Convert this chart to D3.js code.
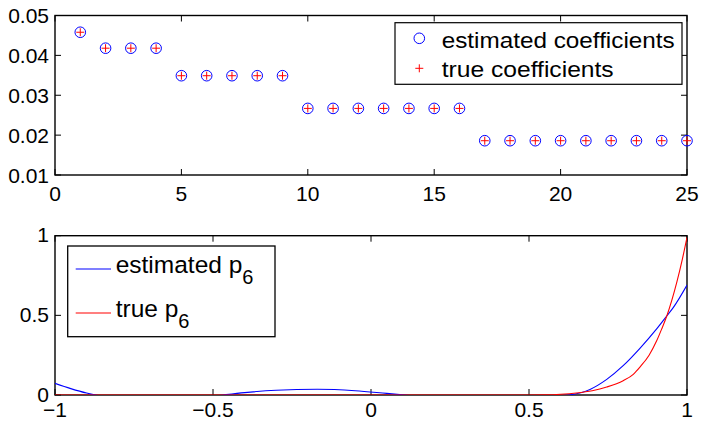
<!DOCTYPE html>
<html>
<head>
<meta charset="utf-8">
<script src="https://cdn.jsdelivr.net/npm/d3@7"></script>
<style>
  html, body { margin: 0; padding: 0; background: #fff; }
  svg { display: block; }
  text { font-family: "Liberation Sans", Arial, Helvetica, sans-serif; fill: #000; }
</style>
</head>
<body>
<svg id="chart" width="702" height="421"></svg>
<script>
// ---------- data ----------
const coefIndex = [1,2,3,4,5,6,7,8,9,10,11,12,13,14,15,16,17,18,19,20,21,22,23,24,25];
const estimatedCoef = [0.0458,0.0418,0.0418,0.0418,0.0349,0.0349,0.0349,0.0349,0.0349,
  0.0267,0.0267,0.0267,0.0267,0.0267,0.0267,0.0267,
  0.0186,0.0186,0.0186,0.0186,0.0186,0.0186,0.0186,0.0186,0.0186];
const trueCoef = [0.0458,0.0418,0.0418,0.0418,0.0349,0.0349,0.0349,0.0349,0.0349,
  0.0267,0.0267,0.0267,0.0267,0.0267,0.0267,0.0267,
  0.0186,0.0186,0.0186,0.0186,0.0186,0.0186,0.0186,0.0186,0.0186];
const topXTicks = [0,5,10,15,20,25];
const topYTicks = [0.01,0.02,0.03,0.04,0.05];
const topYLabels = ["0.01","0.02","0.03","0.04","0.05"];

const estX = [-1,-0.95,-0.9,-0.85,-0.75,-0.65,-0.55,-0.468,-0.4,-0.3,-0.17,-0.05,0.05,0.108,0.2,0.35,0.5,0.58,0.625,0.693,0.746,0.798,0.851,0.904,0.936,0.957,1.0];
const estY = [0.073,0.04,0.012,-0.008,-0.03,-0.035,-0.02,0,0.015,0.03,0.036,0.027,0.01,0,-0.02,-0.03,-0.02,-0.005,0,0.035,0.098,0.184,0.293,0.415,0.496,0.55,0.69];
const trueX = [-1,0,0.5,0.55,0.6,0.65,0.7,0.746,0.798,0.83,0.851,0.88,0.904,0.92,0.936,0.968,0.985,1.0];
const trueY = [0,0,0,0.001,0.005,0.013,0.027,0.05,0.09,0.13,0.175,0.25,0.34,0.415,0.496,0.71,0.85,0.99];
const botXTicks = [-1,-0.5,0,0.5,1];
const botXLabels = ["\u22121","\u22120.5","0","0.5","1"];
const botYTicks = [0,0.5,1];
const botYLabels = ["0","0.5","1"];

// ---------- layout ----------
const svg = d3.select("#chart");
const L = 55, R = 687;
const top1 = 15.5, bot1 = 175;
const top2 = 235.7, bot2 = 395;
const tickLen = 6;
const tickFont = 21;

function drawAxesBox(g, x, y, xt, xl, yt, yl, t, b, labelY, yShift) {
  xt.forEach((v, i) => {
    const px = x(v);
    g.append("line").attr("x1", px).attr("x2", px).attr("y1", b).attr("y2", b - tickLen)
      .attr("stroke", "#000").attr("stroke-width", 1);
    g.append("line").attr("x1", px).attr("x2", px).attr("y1", t).attr("y2", t + tickLen)
      .attr("stroke", "#000").attr("stroke-width", 1);
    g.append("text").attr("x", px).attr("y", labelY).attr("text-anchor", "middle")
      .attr("font-size", tickFont).text(xl[i]);
  });
  yt.forEach((v, i) => {
    const py = y(v);
    g.append("line").attr("x1", L).attr("x2", L + tickLen).attr("y1", py).attr("y2", py)
      .attr("stroke", "#000").attr("stroke-width", 1);
    g.append("line").attr("x1", R).attr("x2", R - tickLen).attr("y1", py).attr("y2", py)
      .attr("stroke", "#000").attr("stroke-width", 1);
    g.append("text").attr("x", L - 6).attr("y", py + yShift).attr("text-anchor", "end")
      .attr("font-size", tickFont).text(yl[i]);
  });
  g.append("rect").attr("x", L).attr("y", t).attr("width", R - L).attr("height", b - t)
    .attr("fill", "none").attr("stroke", "#000").attr("stroke-width", 1.4);
}

// ---------- top panel ----------
const x1 = d3.scaleLinear().domain([0, 25]).range([L, R]);
const y1 = d3.scaleLinear().domain([0.01, 0.05]).range([bot1, top1]);
const g1 = svg.append("g");
drawAxesBox(g1, x1, y1, topXTicks, topXTicks.map(String), topYTicks, topYLabels, top1, bot1, 200.5, 7.5);

g1.selectAll("circle.est").data(coefIndex).enter().append("circle")
  .attr("class", "est")
  .attr("cx", (d) => x1(d)).attr("cy", (d, i) => y1(estimatedCoef[i]))
  .attr("r", 5.3).attr("fill", "none").attr("stroke", "#0000ff").attr("stroke-width", 1);
coefIndex.forEach((d, i) => {
  const cx = x1(d), cy = y1(trueCoef[i]);
  g1.append("path").attr("d", `M${cx-4},${cy}H${cx+4}M${cx},${cy-4}V${cy+4}`)
    .attr("stroke", "#ff0000").attr("stroke-width", 1).attr("fill", "none");
});

// top legend
const lg1 = g1.append("g");
lg1.append("rect").attr("x", 395).attr("y", 22.7).attr("width", 287).attr("height", 61.6)
  .attr("fill", "#fff").attr("stroke", "#000").attr("stroke-width", 1.2);
lg1.append("circle").attr("cx", 419.3).attr("cy", 38.3).attr("r", 5.3)
  .attr("fill", "none").attr("stroke", "#0000ff").attr("stroke-width", 1);
lg1.append("path").attr("d", "M415.3,68.3H423.3M419.3,64.3V72.3")
  .attr("stroke", "#ff0000").attr("stroke-width", 1);
lg1.append("text").attr("x", 441.7).attr("y", 48.3).attr("font-size", 22.5)
  .attr("textLength", 233).attr("lengthAdjust", "spacingAndGlyphs")
  .text("estimated coefficients");
lg1.append("text").attr("x", 441.7).attr("y", 76.7).attr("font-size", 22.5)
  .attr("textLength", 172).attr("lengthAdjust", "spacingAndGlyphs")
  .text("true coefficients");

// ---------- bottom panel ----------
const x2 = d3.scaleLinear().domain([-1, 1]).range([L, R]);
const y2 = d3.scaleLinear().domain([0, 1]).range([bot2, top2]);
const g2 = svg.append("g");
svg.append("defs").append("clipPath").attr("id", "clip2")
  .append("rect").attr("x", L).attr("y", top2).attr("width", R - L).attr("height", bot2 - top2);

drawAxesBox(g2, x2, y2, botXTicks, botXLabels, botYTicks, botYLabels, top2, bot2, 416.5, 6.5);

const line = d3.line().x((d) => x2(d[0])).y((d) => y2(d[1])).curve(d3.curveMonotoneX);
const curves = g2.append("g").attr("clip-path", "url(#clip2)");
curves.append("path").datum(estX.map((v, i) => [v, estY[i]])).attr("d", line)
  .attr("fill", "none").attr("stroke", "#0000ff").attr("stroke-width", 1.1);
curves.append("path").datum(trueX.map((v, i) => [v, trueY[i]])).attr("d", line)
  .attr("fill", "none").attr("stroke", "#ff0000").attr("stroke-width", 1.1);

// bottom legend
const lg2 = g2.append("g");
lg2.append("rect").attr("x", 67.7).attr("y", 246).attr("width", 207.3).attr("height", 90.7)
  .attr("fill", "#fff").attr("stroke", "#000").attr("stroke-width", 1.3);
lg2.append("line").attr("x1", 75.7).attr("x2", 111).attr("y1", 269).attr("y2", 269)
  .attr("stroke", "#0000ff").attr("stroke-width", 1.1);
lg2.append("line").attr("x1", 75.7).attr("x2", 111).attr("y1", 313).attr("y2", 313)
  .attr("stroke", "#ff0000").attr("stroke-width", 1.1);
const t1 = lg2.append("text").attr("x", 115.7).attr("y", 273).attr("font-size", 24.5);
t1.append("tspan").text("estimated p");
t1.append("tspan").attr("dy", 11).attr("font-size", 20).text("6");
const t2 = lg2.append("text").attr("x", 115.7).attr("y", 317).attr("font-size", 24.5);
t2.append("tspan").text("true p");
t2.append("tspan").attr("dy", 11).attr("font-size", 20).text("6");
</script>
</body>
</html>
